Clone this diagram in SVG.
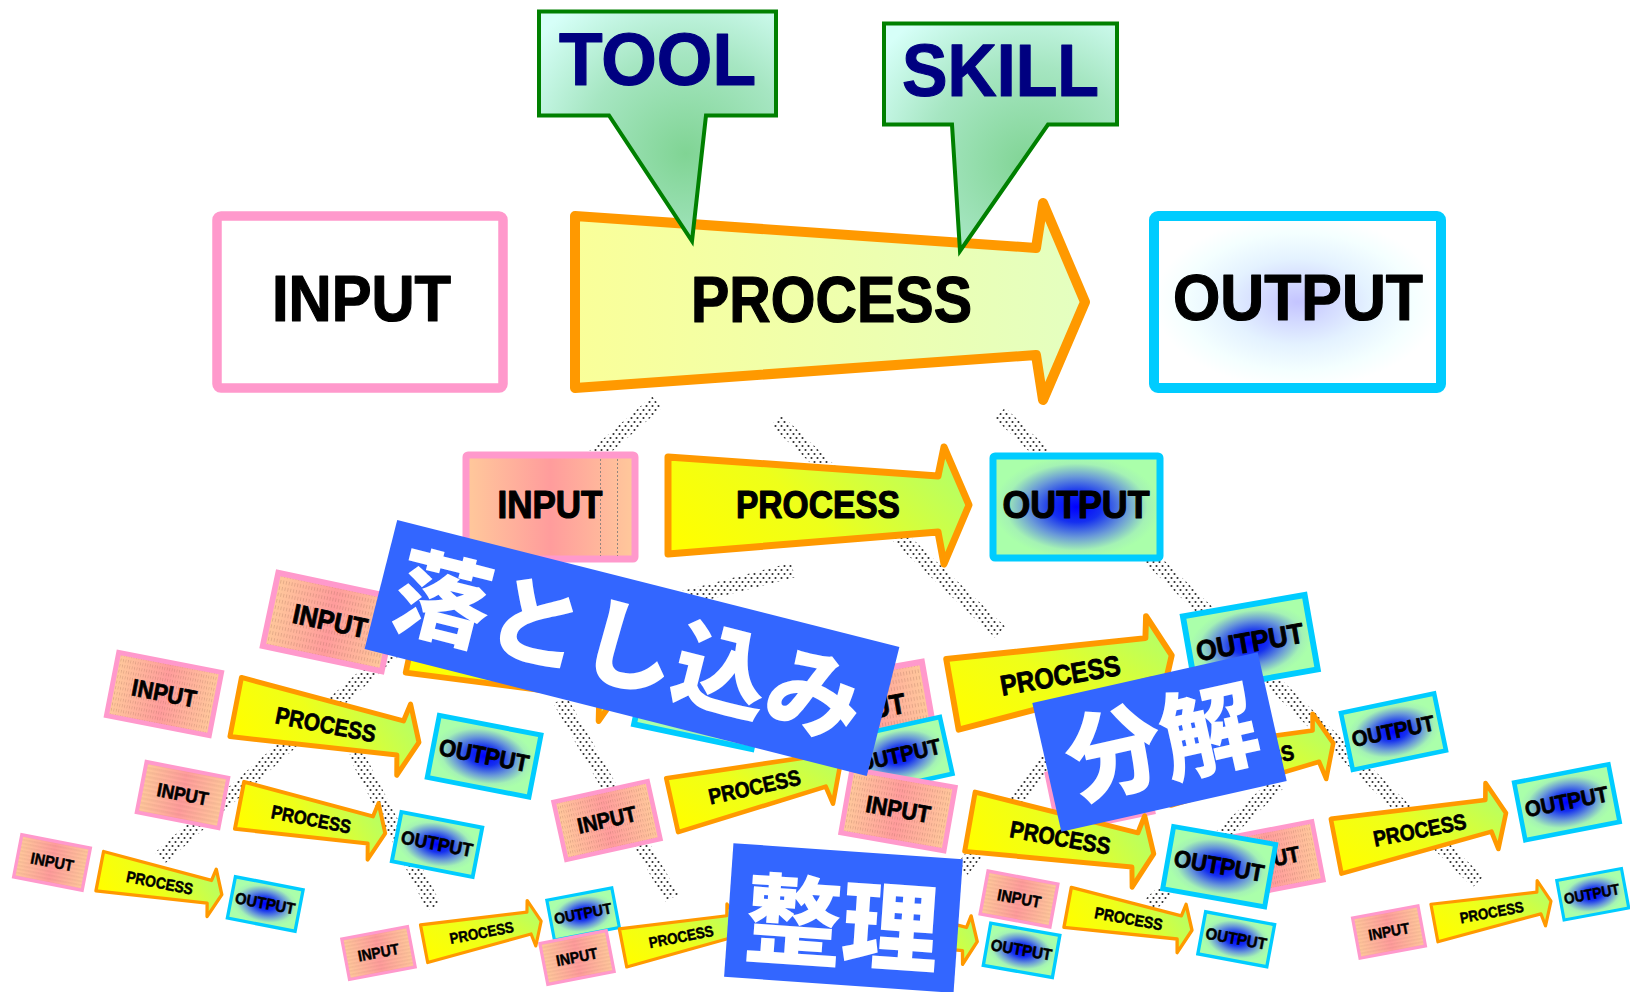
<svg xmlns="http://www.w3.org/2000/svg" width="1630" height="992" viewBox="0 0 1630 992">
<defs>
<style>
.t{font-family:"Liberation Sans",Arial,Helvetica,sans-serif;font-weight:700;text-anchor:middle;fill:#000;stroke:#000;stroke-width:1.2;stroke-linejoin:round}
.big{font-size:64px}
.mid{font-size:38.5px}
.nv{fill:#000080;stroke:#000080;font-size:74px}
.inS{fill:url(#gIn);stroke:#FF99CC;stroke-width:8}
.tex{fill:url(#pTex)}
.prS{fill:url(#gPr);stroke:#FF9900;stroke-width:8;stroke-linejoin:round}
.outS{fill:url(#gOut);stroke:#00CCFF;stroke-width:8}
.band{stroke:url(#pDot);stroke-width:15;fill:none}
.lbl{fill:#3366FF}
.jp{font-family:"Noto Sans CJK JP","Noto Sans CJK SC",sans-serif;font-weight:900;fill:#fff;text-anchor:middle}
.call{fill:url(#gCall);stroke:#008000;stroke-width:4}
</style>
<pattern id="pDot" patternUnits="userSpaceOnUse" width="6" height="8">
<circle cx="1.5" cy="2" r="1.05" fill="#2a2a2a"/>
<circle cx="4.5" cy="6" r="1.05" fill="#2a2a2a"/>
</pattern>
<pattern id="pTex" patternUnits="userSpaceOnUse" width="4" height="9">
<rect x="1.5" y="0" width="0.9" height="5" fill="#7a4a3a" opacity="0.3"/>
</pattern>
<linearGradient id="gIn" x1="0" y1="0" x2="1" y2="0">
<stop offset="0" stop-color="#FFC99B"/>
<stop offset="0.5" stop-color="#FF9C9C"/>
<stop offset="1" stop-color="#FFC99B"/>
</linearGradient>
<linearGradient id="gPr" x1="0" y1="0.7" x2="1" y2="0.3">
<stop offset="0" stop-color="#FFFF00"/>
<stop offset="0.45" stop-color="#EEFF1A"/>
<stop offset="1" stop-color="#B5FF66"/>
</linearGradient>
<radialGradient id="gOut" cx="0.5" cy="0.5" r="0.5">
<stop offset="0" stop-color="#0000FF"/>
<stop offset="0.3" stop-color="#1530F0"/>
<stop offset="0.6" stop-color="#6A9AD8"/>
<stop offset="0.85" stop-color="#A4F2B4"/>
<stop offset="1" stop-color="#AAFFAA"/>
</radialGradient>
<radialGradient id="gOutBig" cx="0.5" cy="0.5" r="0.5">
<stop offset="0" stop-color="#C4C4FF"/>
<stop offset="0.5" stop-color="#E4F2FF"/>
<stop offset="0.8" stop-color="#F4FFFF"/>
<stop offset="1" stop-color="#FFFFFF"/>
</radialGradient>
<linearGradient id="gPrBig" x1="0" y1="0" x2="1" y2="0">
<stop offset="0" stop-color="#FAFF99"/>
<stop offset="1" stop-color="#E4FFC0"/>
</linearGradient>
<radialGradient id="gCall" cx="0.62" cy="0.62" r="0.8">
<stop offset="0" stop-color="#80D494"/>
<stop offset="0.55" stop-color="#A6E6C2"/>
<stop offset="1" stop-color="#D6FFF8"/>
</radialGradient>
</defs>

<rect width="1630" height="992" fill="#FFFFFF"/>

<g id="connectors">
<line class="band" x1="657" y1="402" x2="570" y2="478"/>
<line class="band" x1="776" y1="420" x2="1000" y2="632"/>
<line class="band" x1="1000" y1="413" x2="1212" y2="617"/>
<line class="band" x1="1230" y1="640" x2="1478" y2="882"/>
<line class="band" x1="793" y1="570" x2="600" y2="620"/>
<line class="band" x1="400" y1="645" x2="160" y2="858"/>
<line class="band" x1="355" y1="752" x2="434" y2="907"/>
<line class="band" x1="560" y1="700" x2="672" y2="898"/>
<line class="band" x1="1060" y1="745" x2="962" y2="870"/>
<line class="band" x1="1278" y1="783" x2="1150" y2="905"/>
</g>

<g id="top-input">
<rect x="217" y="216" width="286" height="172" rx="4" fill="#FFFFFF" stroke="#FF99CC" stroke-width="9.5"/>
<text class="t big" x="361.5" y="321" textLength="179" lengthAdjust="spacingAndGlyphs">INPUT</text>
</g>
<g id="top-process">
<polygon points="575,216 1036,248 1043,203 1085,302 1043,400 1036,355 575,388" fill="url(#gPrBig)" stroke="#FF9900" stroke-width="10" stroke-linejoin="round"/>
<text class="t big" x="831.5" y="322" textLength="281" lengthAdjust="spacingAndGlyphs">PROCESS</text>
</g>
<g id="top-output">
<rect x="1154" y="216" width="287" height="172" rx="4" fill="url(#gOutBig)" stroke="#00CCFF" stroke-width="10"/>
<text class="t big" x="1298" y="320" textLength="250" lengthAdjust="spacingAndGlyphs">OUTPUT</text>
</g>
<g id="tool">
<path class="call" d="M539,11.5 H776 V115.5 H706 L692,241 L609,115.5 H539 Z"/>
<text class="t nv" x="657.5" y="85" textLength="197" lengthAdjust="spacingAndGlyphs">TOOL</text>
</g>
<g id="skill">
<path class="call" d="M884,23.5 H1117 V124.5 H1048 L960,251 L952,124.5 H884 Z"/>
<text class="t nv" x="1000.5" y="96" textLength="197" lengthAdjust="spacingAndGlyphs">SKILL</text>
</g>

<g id="mid-input">
<rect x="466" y="455" width="169" height="104" rx="2" fill="url(#gIn)" stroke="#FF99CC" stroke-width="7"/>
<line x1="600.5" y1="459" x2="600.5" y2="556" stroke="#777" stroke-width="0.8" stroke-dasharray="2 2"/>
<line x1="617.5" y1="459" x2="617.5" y2="556" stroke="#777" stroke-width="0.8" stroke-dasharray="2 2"/>
<text class="t mid" x="550" y="518" textLength="105" lengthAdjust="spacingAndGlyphs">INPUT</text>
</g>
<g id="mid-process">
<polygon points="668,457 938,476 944,447 969,505 944,564 938,532 668,554" fill="url(#gPr)" stroke="#FF9900" stroke-width="7" stroke-linejoin="round"/>
<text class="t mid" x="818" y="518" textLength="164" lengthAdjust="spacingAndGlyphs">PROCESS</text>
</g>
<g id="mid-output">
<rect x="993" y="456" width="167" height="102" rx="2" fill="url(#gOut)" stroke="#00CCFF" stroke-width="7"/>
<text class="t mid" x="1076" y="518" textLength="147" lengthAdjust="spacingAndGlyphs">OUTPUT</text>
</g>

<g id="set4" transform="translate(330 622) rotate(12) scale(0.72) translate(-84.5 -52)">
<g id="set4-input"><rect class="inS" width="169" height="104"/><rect class="tex" x="4" y="4" width="161" height="96"/><text class="t mid" x="84.5" y="64" textLength="105" lengthAdjust="spacingAndGlyphs">INPUT</text></g>
<g id="set4-process"><polygon class="prS" points="202,2 472,21 478,-8 503,50 478,109 472,77 202,99"/><text class="t mid" x="350" y="64" textLength="164" lengthAdjust="spacingAndGlyphs">PROCESS</text></g>
<g id="set4-output"><rect class="outS" x="527" y="1" width="167" height="102"/><text class="t mid" x="610" y="64" textLength="147" lengthAdjust="spacingAndGlyphs">OUTPUT</text></g>
</g>
<g id="set1" transform="translate(164 694) rotate(11) scale(0.62) translate(-84.5 -52)">
<g id="set1-input"><rect class="inS" width="169" height="104"/><rect class="tex" x="4" y="4" width="161" height="96"/><text class="t mid" x="84.5" y="64" textLength="105" lengthAdjust="spacingAndGlyphs">INPUT</text></g>
<g id="set1-process"><polygon class="prS" points="202,2 472,21 478,-8 503,50 478,109 472,77 202,99"/><text class="t mid" x="350" y="64" textLength="164" lengthAdjust="spacingAndGlyphs">PROCESS</text></g>
<g id="set1-output"><rect class="outS" x="527" y="1" width="167" height="102"/><text class="t mid" x="610" y="64" textLength="147" lengthAdjust="spacingAndGlyphs">OUTPUT</text></g>
</g>
<g id="set2" transform="translate(182.5 795) rotate(11) scale(0.493) translate(-84.5 -52)">
<g id="set2-input"><rect class="inS" width="169" height="104"/><rect class="tex" x="4" y="4" width="161" height="96"/><text class="t mid" x="84.5" y="64" textLength="105" lengthAdjust="spacingAndGlyphs">INPUT</text></g>
<g id="set2-process"><polygon class="prS" points="202,2 472,21 478,-8 503,50 478,109 472,77 202,99"/><text class="t mid" x="350" y="64" textLength="164" lengthAdjust="spacingAndGlyphs">PROCESS</text></g>
<g id="set2-output"><rect class="outS" x="527" y="1" width="167" height="102"/><text class="t mid" x="610" y="64" textLength="147" lengthAdjust="spacingAndGlyphs">OUTPUT</text></g>
</g>
<g id="set3" transform="translate(52 862.5) rotate(11) scale(0.413) translate(-84.5 -52)">
<g id="set3-input"><rect class="inS" width="169" height="104"/><rect class="tex" x="4" y="4" width="161" height="96"/><text class="t mid" x="84.5" y="64" textLength="105" lengthAdjust="spacingAndGlyphs">INPUT</text></g>
<g id="set3-process"><polygon class="prS" points="202,2 472,21 478,-8 503,50 478,109 472,77 202,99"/><text class="t mid" x="350" y="64" textLength="164" lengthAdjust="spacingAndGlyphs">PROCESS</text></g>
<g id="set3-output"><rect class="outS" x="527" y="1" width="167" height="102"/><text class="t mid" x="610" y="64" textLength="147" lengthAdjust="spacingAndGlyphs">OUTPUT</text></g>
</g>
<g id="set12" transform="translate(378.5 953) rotate(-10.8) scale(0.396) translate(-84.5 -52)">
<g id="set12-input"><rect class="inS" width="169" height="104"/><rect class="tex" x="4" y="4" width="161" height="96"/><text class="t mid" x="84.5" y="64" textLength="105" lengthAdjust="spacingAndGlyphs">INPUT</text></g>
<g id="set12-process"><polygon class="prS" points="202,2 472,21 478,-8 503,50 478,109 472,77 202,99"/><text class="t mid" x="350" y="64" textLength="164" lengthAdjust="spacingAndGlyphs">PROCESS</text></g>
<g id="set12-output"><rect class="outS" x="527" y="1" width="167" height="102"/><text class="t mid" x="610" y="64" textLength="147" lengthAdjust="spacingAndGlyphs">OUTPUT</text></g>
</g>
<g id="set13" transform="translate(577 957.5) rotate(-11) scale(0.40) translate(-84.5 -52)">
<g id="set13-input"><rect class="inS" width="169" height="104"/><rect class="tex" x="4" y="4" width="161" height="96"/><text class="t mid" x="84.5" y="64" textLength="105" lengthAdjust="spacingAndGlyphs">INPUT</text></g>
<g id="set13-process"><polygon class="prS" points="202,2 472,21 478,-8 503,50 478,109 472,77 202,99"/><text class="t mid" x="350" y="64" textLength="164" lengthAdjust="spacingAndGlyphs">PROCESS</text></g>
<g id="set13-output"><rect class="outS" x="527" y="1" width="167" height="102"/><text class="t mid" x="610" y="64" textLength="147" lengthAdjust="spacingAndGlyphs">OUTPUT</text></g>
</g>
<g id="set8" transform="translate(867 710.5) rotate(-10) scale(0.74) translate(-84.5 -52)">
<g id="set8-input"><rect class="inS" width="169" height="104"/><rect class="tex" x="4" y="4" width="161" height="96"/><text class="t mid" x="84.5" y="64" textLength="105" lengthAdjust="spacingAndGlyphs">INPUT</text></g>
<g id="set8-process"><polygon class="prS" points="202,2 472,21 478,-8 503,50 478,109 472,77 202,99"/><text class="t mid" x="350" y="64" textLength="164" lengthAdjust="spacingAndGlyphs">PROCESS</text></g>
<g id="set8-output"><rect class="outS" x="527" y="1" width="167" height="102"/><text class="t mid" x="610" y="64" textLength="147" lengthAdjust="spacingAndGlyphs">OUTPUT</text></g>
</g>
<g id="set5" transform="translate(607 820.5) rotate(-12.5) scale(0.57) translate(-84.5 -52)">
<g id="set5-input"><rect class="inS" width="169" height="104"/><rect class="tex" x="4" y="4" width="161" height="96"/><text class="t mid" x="84.5" y="64" textLength="105" lengthAdjust="spacingAndGlyphs">INPUT</text></g>
<g id="set5-process"><polygon class="prS" points="202,2 472,21 478,-8 503,50 478,109 472,77 202,99"/><text class="t mid" x="350" y="64" textLength="164" lengthAdjust="spacingAndGlyphs">PROCESS</text></g>
<g id="set5-output"><rect class="outS" x="527" y="1" width="167" height="102"/><text class="t mid" x="610" y="64" textLength="147" lengthAdjust="spacingAndGlyphs">OUTPUT</text></g>
</g>
<g id="set10" transform="translate(1270 860) rotate(-11) scale(0.575) translate(-84.5 -52)">
<g id="set10-input"><rect class="inS" width="169" height="104"/><rect class="tex" x="4" y="4" width="161" height="96"/><text class="t mid" x="84.5" y="64" textLength="105" lengthAdjust="spacingAndGlyphs">INPUT</text></g>
<g id="set10-process"><polygon class="prS" points="202,2 472,21 478,-8 503,50 478,109 472,77 202,99"/><text class="t mid" x="350" y="64" textLength="164" lengthAdjust="spacingAndGlyphs">PROCESS</text></g>
<g id="set10-output"><rect class="outS" x="527" y="1" width="167" height="102"/><text class="t mid" x="610" y="64" textLength="147" lengthAdjust="spacingAndGlyphs">OUTPUT</text></g>
</g>
<g id="set9" transform="translate(1100 793) rotate(-11.8) scale(0.57) translate(-84.5 -52)">
<g id="set9-input"><rect class="inS" width="169" height="104"/><rect class="tex" x="4" y="4" width="161" height="96"/><text class="t mid" x="84.5" y="64" textLength="105" lengthAdjust="spacingAndGlyphs">INPUT</text></g>
<g id="set9-process"><polygon class="prS" points="202,2 472,21 478,-8 503,50 478,109 472,77 202,99"/><text class="t mid" x="350" y="64" textLength="164" lengthAdjust="spacingAndGlyphs">PROCESS</text></g>
<g id="set9-output"><rect class="outS" x="527" y="1" width="167" height="102"/><text class="t mid" x="610" y="64" textLength="147" lengthAdjust="spacingAndGlyphs">OUTPUT</text></g>
</g>
<g id="set7" transform="translate(898 810) rotate(10) scale(0.62) translate(-84.5 -52)">
<g id="set7-input"><rect class="inS" width="169" height="104"/><rect class="tex" x="4" y="4" width="161" height="96"/><text class="t mid" x="84.5" y="64" textLength="105" lengthAdjust="spacingAndGlyphs">INPUT</text></g>
<g id="set7-process"><polygon class="prS" points="202,2 472,21 478,-8 503,50 478,109 472,77 202,99"/><text class="t mid" x="350" y="64" textLength="164" lengthAdjust="spacingAndGlyphs">PROCESS</text></g>
<g id="set7-output"><rect class="outS" x="527" y="1" width="167" height="102"/><text class="t mid" x="610" y="64" textLength="147" lengthAdjust="spacingAndGlyphs">OUTPUT</text></g>
</g>
<g id="set14" transform="translate(1019 899) rotate(10.5) scale(0.42) translate(-84.5 -52)">
<g id="set14-input"><rect class="inS" width="169" height="104"/><rect class="tex" x="4" y="4" width="161" height="96"/><text class="t mid" x="84.5" y="64" textLength="105" lengthAdjust="spacingAndGlyphs">INPUT</text></g>
<g id="set14-process"><polygon class="prS" points="202,2 472,21 478,-8 503,50 478,109 472,77 202,99"/><text class="t mid" x="350" y="64" textLength="164" lengthAdjust="spacingAndGlyphs">PROCESS</text></g>
<g id="set14-output"><rect class="outS" x="527" y="1" width="167" height="102"/><text class="t mid" x="610" y="64" textLength="147" lengthAdjust="spacingAndGlyphs">OUTPUT</text></g>
</g>
<g id="set15" transform="translate(804 912) rotate(10) scale(0.42) translate(-84.5 -52)">
<g id="set15-input"><rect class="inS" width="169" height="104"/><rect class="tex" x="4" y="4" width="161" height="96"/><text class="t mid" x="84.5" y="64" textLength="105" lengthAdjust="spacingAndGlyphs">INPUT</text></g>
<g id="set15-process"><polygon class="prS" points="202,2 472,21 478,-8 503,50 478,109 472,77 202,99"/><text class="t mid" x="350" y="64" textLength="164" lengthAdjust="spacingAndGlyphs">PROCESS</text></g>
<g id="set15-output"><rect class="outS" x="527" y="1" width="167" height="102"/><text class="t mid" x="610" y="64" textLength="147" lengthAdjust="spacingAndGlyphs">OUTPUT</text></g>
</g>
<g id="set11" transform="translate(1389 932) rotate(-10.5) scale(0.394) translate(-84.5 -52)">
<g id="set11-input"><rect class="inS" width="169" height="104"/><rect class="tex" x="4" y="4" width="161" height="96"/><text class="t mid" x="84.5" y="64" textLength="105" lengthAdjust="spacingAndGlyphs">INPUT</text></g>
<g id="set11-process"><polygon class="prS" points="202,2 472,21 478,-8 503,50 478,109 472,77 202,99"/><text class="t mid" x="350" y="64" textLength="164" lengthAdjust="spacingAndGlyphs">PROCESS</text></g>
<g id="set11-output"><rect class="outS" x="527" y="1" width="167" height="102"/><text class="t mid" x="608" y="64" textLength="143" lengthAdjust="spacingAndGlyphs">OUTPUT</text></g>
</g>

<g id="label-otoshikomi" transform="translate(632 648) rotate(14.2)">
<rect class="lbl" x="-259" y="-66.5" width="518" height="133"/>
<text class="jp" x="-3" y="35" font-size="96">落とし込み</text>
</g>
<g id="label-bunkai" transform="translate(1159.5 742) rotate(-12.7)">
<rect class="lbl" x="-115.5" y="-66" width="231" height="132"/>
<text class="jp" x="2" y="36" font-size="97">分解</text>
</g>
<g id="label-seiri" transform="translate(843.5 918) rotate(4)">
<rect class="lbl" x="-115" y="-67" width="230" height="134"/>
<text class="jp" x="-1" y="42" font-size="97">整理</text>
</g>
</svg>
